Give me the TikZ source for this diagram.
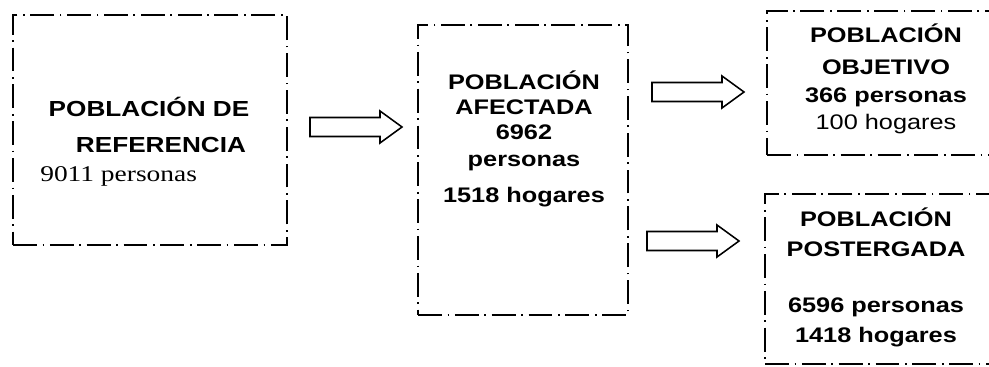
\documentclass[tikz,border=0pt]{standalone}
\usepackage{fontspec}
\setmainfont{Liberation Sans}
\newfontfamily\letra[FakeStretch=1.2]{Liberation Sans}
\newfontfamily\letraser[FakeStretch=1.22]{Liberation Serif}
\usetikzlibrary{fit}

\tikzset{
  caja/.style={draw, line width=1pt, dash pattern=on 17pt off 4pt on 1.2pt off 4pt, inner sep=0pt},
  txt/.style={anchor=base, inner sep=0pt, font=\letra\bfseries\fontsize{15}{18}\selectfont},
  flechaline/.style={draw, line width=1.1pt, line join=miter}
}
\newcommand{\flecha}[1]{\draw[flechaline] (#1) ++(0,-9.5) -- ++(70,0) -- ++(0,-6.5) -- ++(22,16) -- ++(-22,16) -- ++(0,-6.5) -- ++(-70,0) -- cycle;}

\begin{document}
\begin{tikzpicture}[x=0.025cm,y=-0.025cm]
\useasboundingbox (0,0) rectangle (989,367);
\clip (0,0) rectangle (989,367);
% cajas
\node[caja, fit={(13,15) (287,245)}] (ref) {};
\node[caja, fit={(418,25) (628,315)}] (afe) {};
\node[caja, fit={(767,11) (1000,155)}] (obj) {};
\node[caja, fit={(765,194) (1000,364)}] (pos) {};
% textos
\node[txt, font=\letra\bfseries\fontsize{15.5}{18}\selectfont] (ref1) at (149,117) {POBLACIÓN DE};
\node[txt, font=\letra\bfseries\fontsize{15.5}{18}\selectfont] (ref2) at (161,153) {REFERENCIA};
\node[txt, anchor=base west, font=\letraser\fontsize{16}{19}\selectfont] (ref3) at (40,182) {9011 personas};
\foreach \t/\y [count=\i] in {POBLACIÓN/90, AFECTADA/115, 6962/140, personas/167, 1518 hogares/203}
  \node[txt] (afe\i) at (524,\y) {\t};
\foreach \t/\y [count=\i] in {POBLACIÓN/43, OBJETIVO/75, 366 personas/103}
  \node[txt] (obj\i) at (886,\y) {\t};
\node[txt, font=\letra\fontsize{15}{18}\selectfont] (obj4) at (886,130) {100 hogares};
\foreach \t/\y [count=\i] in {POBLACIÓN/227, POSTERGADA/257, 6596 personas/313, 1418 hogares/343}
  \node[txt] (pos\i) at (876,\y) {\t};
% flechas
\coordinate (a1) at (310,127);
\coordinate (a2) at (652,92);
\coordinate (a3) at (647,241);
\flecha{a1}
\flecha{a2}
\flecha{a3}
\end{tikzpicture}
\end{document}
